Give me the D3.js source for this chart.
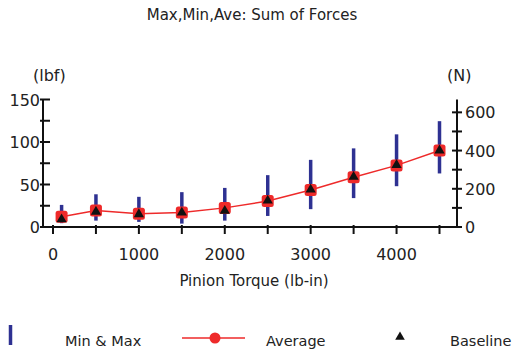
<!DOCTYPE html>
<html lang="en">
<head>
<meta charset="UTF-8">
<title>Max,Min,Ave: Sum of Forces</title>
<script src="https://d3js.org/d3.v7.min.js"></script>
<style>
    body { margin: 0; background: #fff; }
    svg { display: block; }
    text { font-family: "DejaVu Sans", "Liberation Sans", sans-serif; fill: #222; }
</style>
</head>
<body>
<svg width="515" height="352"></svg>
<script>
// torque points (lb-in)
var torque = [100, 500, 1000, 1500, 2000, 2500, 3000, 3500, 4000, 4500];
// forces in lbf
var maxForce = [26, 38.5, 35.5, 41, 46, 61, 79, 92.5, 109, 124.5];
var minForce = [4.5, 7.5, 6, 4, 7.5, 13, 21, 34, 48, 63];
var aveForce = [12, 19.5, 15.5, 17, 22.5, 30.5, 43.5, 58.5, 72.5, 90];
var baseForce = [9, 18, 15, 17, 19, 31, 44, 59, 73, 90];

var xTicks = [0, 1000, 2000, 3000, 4000];
var xMinor = [500, 1500, 2500, 3500, 4500];
var leftTicks = [0, 50, 100, 150];
var leftMinor = [25, 75, 125];
var rightTicks = [0, 200, 400, 600];
var rightMinor = [100, 300, 500];
var legendNames = ["Min & Max", "Average", "Baseline"];

var LBF_TO_N = 4.448;
var blue = "#2e3192", red = "#ee2a2a";

var svg = d3.select("svg");

var x = d3.scaleLinear().domain([0, 4500]).range([53, 439.5]);
var y = d3.scaleLinear().domain([0, 150]).range([227, 99.5]);
var yN = d3.scaleLinear().domain([0, 150 * LBF_TO_N]).range([227, 99.5]);

// title
svg.append("text")
    .attr("x", 252).attr("y", 20)
    .attr("text-anchor", "middle")
    .style("font-size", "15px")
    .text("Max,Min,Ave: Sum of Forces");

// units
svg.append("text").attr("x", 33).attr("y", 81).style("font-size", "16px").text("(lbf)");
svg.append("text").attr("x", 447).attr("y", 81).style("font-size", "16px").text("(N)");

// axes lines
var axes = svg.append("g").attr("stroke", "#111").attr("stroke-width", 2);
axes.append("line").attr("x1", 43).attr("x2", 457).attr("y1", y(0)).attr("y2", y(0));
axes.append("line").attr("x1", 43).attr("x2", 43).attr("y1", y(150)).attr("y2", y(0));
axes.append("line").attr("x1", 457).attr("x2", 457).attr("y1", y(150)).attr("y2", y(0));

// x ticks
axes.selectAll(".xt").data(xTicks.concat(xMinor)).enter().append("line")
    .attr("x1", function(d) { return x(d); }).attr("x2", function(d) { return x(d); })
    .attr("y1", y(0) - 2).attr("y2", y(0) + 7);
// left ticks
axes.selectAll(".lt").data(leftTicks.concat(leftMinor)).enter().append("line")
    .attr("x1", 40).attr("x2", 50)
    .attr("y1", function(d) { return y(d); }).attr("y2", function(d) { return y(d); });
// right ticks
axes.selectAll(".rt").data(rightTicks.concat(rightMinor)).enter().append("line")
    .attr("x1", 452).attr("x2", 462)
    .attr("y1", function(d) { return yN(d); }).attr("y2", function(d) { return yN(d); });

svg.selectAll(".xl").data(xTicks).enter().append("text")
    .attr("x", function(d) { return x(d); }).attr("y", 259.5)
    .attr("text-anchor", "middle").style("font-size", "16px")
    .text(function(d) { return d; });
svg.selectAll(".ll").data(leftTicks).enter().append("text")
    .attr("x", 40).attr("y", function(d) { return y(d) + 6; })
    .attr("text-anchor", "end").style("font-size", "16px")
    .text(function(d) { return d; });
svg.selectAll(".rl").data(rightTicks).enter().append("text")
    .attr("x", 465).attr("y", function(d) { return yN(d) + 6; })
    .style("font-size", "16px")
    .text(function(d) { return d; });

svg.append("text")
    .attr("x", 254).attr("y", 285.5)
    .attr("text-anchor", "middle").style("font-size", "15px")
    .text("Pinion Torque (lb-in)");

// min-max bars
svg.selectAll(".bar").data(torque).enter().append("line")
    .attr("x1", function(d) { return x(d); }).attr("x2", function(d) { return x(d); })
    .attr("y1", function(d, i) { return y(maxForce[i]); })
    .attr("y2", function(d, i) { return y(minForce[i]); })
    .attr("stroke", blue).attr("stroke-width", 3.5);

// average line
var line = d3.line()
    .x(function(d, i) { return x(torque[i]); })
    .y(function(d) { return y(d); });
svg.append("path").datum(aveForce)
    .attr("d", line).attr("fill", "none").attr("stroke", red).attr("stroke-width", 1.5);

svg.selectAll(".ave").data(aveForce).enter().append("rect")
    .attr("x", function(d, i) { return x(torque[i]) - 6; })
    .attr("y", function(d) { return y(d) - 6; })
    .attr("width", 12).attr("height", 12).attr("rx", 2.5)
    .attr("fill", red);

// baseline triangles
var tri = d3.symbol().type(d3.symbolTriangle).size(45);
svg.selectAll(".base").data(baseForce).enter().append("path")
    .attr("d", tri)
    .attr("transform", function(d, i) { return "translate(" + x(torque[i]) + "," + y(d) + ")"; })
    .attr("fill", "#111");

// legend
var lg = svg.append("g");
lg.append("line").attr("x1", 10.5).attr("x2", 10.5).attr("y1", 325).attr("y2", 345)
    .attr("stroke", blue).attr("stroke-width", 3.5);
lg.append("line").attr("x1", 182).attr("x2", 245).attr("y1", 338).attr("y2", 338)
    .attr("stroke", red).attr("stroke-width", 1.5);
lg.append("circle").attr("cx", 215).attr("cy", 338).attr("r", 5.5).attr("fill", red);
lg.append("path").attr("d", d3.symbol().type(d3.symbolTriangle).size(40))
    .attr("transform", "translate(400,337)").attr("fill", "#111");
var legendX = [65, 266, 450];
lg.selectAll(".lt").data(legendNames).enter().append("text")
    .attr("x", function(d, i) { return legendX[i]; }).attr("y", 345.5)
    .style("font-size", "14.5px")
    .text(function(d) { return d; });
</script>
</body>
</html>
